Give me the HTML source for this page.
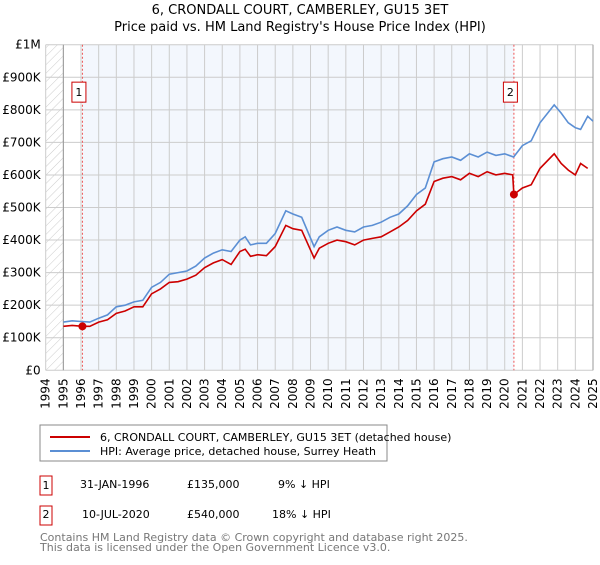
<!DOCTYPE html>
<html><head><meta charset="utf-8"><style>
body{margin:0;width:600px;height:560px;background:#fff;font-family:"Liberation Sans","DejaVu Sans",sans-serif;overflow:hidden}
svg text{font-family:"DejaVu Sans","Liberation Sans",sans-serif}
</style></head><body>
<svg width="600" height="560">
<defs><pattern id="hatch" width="6" height="6" patternUnits="userSpaceOnUse" patternTransform="rotate(45)"><line x1="0" y1="0" x2="0" y2="6" stroke="#ccc" stroke-width="1"/></pattern></defs>
<text x="300" y="14" text-anchor="middle" font-size="13">6, CRONDALL COURT, CAMBERLEY, GU15 3ET</text>
<text x="300" y="31" text-anchor="middle" font-size="13">Price paid vs. HM Land Registry's House Price Index (HPI)</text>
<g id="plot"></g>
<rect x="40" y="425" width="347" height="36" fill="#fff" stroke="#888"/>
<line x1="50" y1="437" x2="90" y2="437" stroke="#cc0000" stroke-width="2"/>
<text x="100" y="441" font-size="11">6, CRONDALL COURT, CAMBERLEY, GU15 3ET (detached house)</text>
<line x1="50" y1="451" x2="90" y2="451" stroke="#5b8fd4" stroke-width="2"/>
<text x="100" y="455" font-size="11">HPI: Average price, detached house, Surrey Heath</text>
<g font-size="11">
<rect x="40" y="476" width="12" height="19" fill="#fff" stroke="#cc0000"/>
<text x="46" y="489" text-anchor="middle">1</text>
<text x="80" y="488">31-JAN-1996</text><text x="187" y="488">£135,000</text><text x="278" y="488">9% ↓ HPI</text>
<rect x="40" y="506" width="12" height="19" fill="#fff" stroke="#cc0000"/>
<text x="46" y="518" text-anchor="middle">2</text>
<text x="82" y="518">10-JUL-2020</text><text x="187" y="518">£540,000</text><text x="272" y="518">18% ↓ HPI</text>
</g>
<text x="40" y="541" font-size="11" fill="#777">Contains HM Land Registry data © Crown copyright and database right 2025.</text>
<text x="40" y="551" font-size="11" fill="#777">This data is licensed under the Open Government Licence v3.0.</text>
</svg>
<script>
const hpiDates=[1995,1995.5,1996,1996.5,1997,1997.5,1998,1998.5,1999,1999.5,2000,2000.5,2001,2001.5,2002,2002.5,2003,2003.5,2004,2004.5,2005,2005.3,2005.6,2006,2006.5,2007,2007.6,2008,2008.5,2009.2,2009.5,2010,2010.5,2011,2011.5,2012,2012.5,2013,2013.5,2014,2014.5,2015,2015.5,2016,2016.5,2017,2017.5,2018,2018.5,2019,2019.5,2020,2020.5,2021,2021.5,2022,2022.8,2023.2,2023.6,2024,2024.3,2024.7,2025];
const hpiValues=[148,152,150,148,160,170,195,200,210,215,255,270,295,300,305,320,345,360,370,365,400,410,385,390,390,420,490,480,470,380,410,430,440,430,425,440,445,455,470,480,505,540,560,640,650,655,645,665,655,670,660,665,655,690,705,760,815,790,760,745,740,780,765];
const priceDates=[1995,1995.5,1996.08,1996.5,1997,1997.5,1998,1998.5,1999,1999.5,2000,2000.5,2001,2001.5,2002,2002.5,2003,2003.5,2004,2004.5,2005,2005.3,2005.6,2006,2006.5,2007,2007.6,2008,2008.5,2009.2,2009.5,2010,2010.5,2011,2011.5,2012,2012.5,2013,2013.5,2014,2014.5,2015,2015.5,2016,2016.5,2017,2017.5,2018,2018.5,2019,2019.5,2020,2020.45,2020.52,2021,2021.5,2022,2022.8,2023.2,2023.6,2024,2024.3,2024.7,2025];
const priceValues=[135,138,135,135,148,155,175,182,195,195,235,250,270,272,280,292,315,330,340,325,365,372,350,355,352,380,445,435,430,345,375,390,400,395,385,400,405,410,425,440,460,490,510,580,590,595,585,605,595,610,600,605,600,540,560,570,620,665,635,615,600,635,620];
const sales=[{d:1996.08,v:135,label:"1"},{d:2020.52,v:540,label:"2"}];
const yTickValues=[0,100,200,300,400,500,600,700,800,900,1000];
const yTickLabels=["£0","£100K","£200K","£300K","£400K","£500K","£600K","£700K","£800K","£900K","£1M"];
const years=[];for(let y=1994;y<=2025;y++)years.push(y);
const X0=45.7,X1=593,Y0=370.3,Y1=44.7;
const xs=d=>X0+(d-1994)/31*(X1-X0);
const ys=v=>Y0-v/1000*(Y0-Y1);
const NS="http://www.w3.org/2000/svg";
const g=document.getElementById('plot');
function mk(t,a,p){const e=document.createElementNS(NS,t);for(const k in a)e.setAttribute(k,a[k]);(p||g).appendChild(e);return e;}
let e;
e=mk('rect',{x:X0,y:Y1,width:xs(1995)-X0,height:Y0-Y1,fill:'url(#hatch)'});


e=mk('rect',{x:xs(sales[0].d),y:Y1,width:xs(sales[1].d)-xs(sales[0].d),height:Y0-Y1,fill:'#eef3fc',opacity:0.7});


years.forEach(y=>{
 const l=mk('line',{x1:xs(y),x2:xs(y),y1:Y1,y2:Y0,stroke:'#ccc','stroke-width':1});
 
 
 const t=mk('text',{x:0,y:0,'font-size':12,'text-anchor':'end',transform:`translate(${xs(y)+4},${Y0+8}) rotate(-90)`});
 t.textContent=y;
 
 
});
yTickValues.forEach((v,i)=>{
 const l=mk('line',{x1:X0,x2:X1,y1:ys(v),y2:ys(v),stroke:'#ccc','stroke-width':1});
 
 
 const t=mk('text',{x:X0-5,y:ys(v)+4,'font-size':12,'text-anchor':'end'});
 t.textContent=yTickLabels[i];
 
 
});
e=mk('line',{x1:xs(1995),x2:xs(1995),y1:Y1,y2:Y0,stroke:'#999'});


e=mk('line',{x1:X1,x2:X1,y1:Y1,y2:Y0,stroke:'#999'});


sales.forEach(s=>{
 const l=mk('line',{x1:xs(s.d),x2:xs(s.d),y1:Y1,y2:Y0,stroke:'#e55','stroke-dasharray':'2,2'});
 
 
 const r=mk('rect',{x:xs(s.d)-10.5,y:ys(885),width:14,height:20,fill:'#fff',stroke:'#cc0000'});
 
 
 const t=mk('text',{x:xs(s.d)-3.5,y:ys(885)+14,'font-size':11,'text-anchor':'middle'});
 t.textContent=s.label;
 
 
});
const path=(ds,vs)=>ds.map((d,i)=>(i?'L':'M')+xs(d).toFixed(1)+','+ys(vs[i]).toFixed(1)).join('');
e=mk('path',{d:path(hpiDates,hpiValues),fill:'none',stroke:'#5b8fd4','stroke-width':1.6});


e=mk('path',{d:path(priceDates,priceValues),fill:'none',stroke:'#cc0000','stroke-width':1.6});


sales.forEach(s=>{
 const c=mk('circle',{cx:xs(s.d),cy:ys(s.v),r:4,fill:'#cc0000'});
 
 
});
</script>
</body></html>
